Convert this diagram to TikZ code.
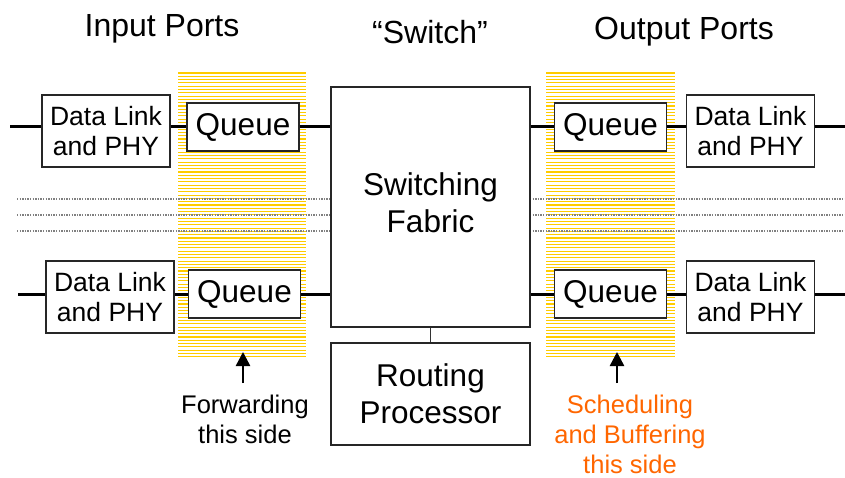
\documentclass[tikz,border=0pt]{standalone}
\usepackage{fontspec}
\setmainfont{Liberation Sans}
\usetikzlibrary{arrows.meta}
\definecolor{stripe}{HTML}{FFCC00}
\definecolor{orng}{HTML}{FF6600}
\tikzset{
  box/.style={draw=black!85, line width=1.3pt, fill=white, inner sep=0pt, align=center},
  dlp/.style={box, minimum width=128pt, minimum height=72pt, font=\fontsize{26.5}{30}\selectfont},
  queue/.style={box, minimum width=112pt, minimum height=48pt, font=\fontsize{31.5}{34}\selectfont},
  big/.style={box, minimum width=199pt, font=\fontsize{31.5}{37}\selectfont},
  wire/.style={line width=3pt, black},
  thinwire/.style={line width=1pt, black!80},
  dots/.style={line width=1.3pt, black!50, dash pattern=on 1.3pt off 1.3pt},
  title/.style={font=\fontsize{32}{36}\selectfont},
  note/.style={font=\fontsize{25.5}{30}\selectfont, align=center},
  uparrow/.style={line width=2.5pt, -{Triangle[width=14pt,length=14pt]}}
}
\begin{document}
\begin{tikzpicture}[x=1pt,y=-1pt]
\useasboundingbox (0,0) rectangle (845,478);
% stripes
\foreach \i in {0,...,86} {
  \draw[stripe, line width=1.05pt] (178,73+3.3*\i) -- (306,73+3.3*\i);
  \draw[stripe, line width=1.05pt] (546,73+3.3*\i) -- (675,73+3.3*\i);
}
% dotted lines
\foreach \yy in {199,215,231} {
  \draw[dots] (17,\yy) -- (331,\yy);
  \draw[dots] (530,\yy) -- (845,\yy);
}
% titles
\node[title] (tin) at (162,29) {Input Ports};
\node[title] (tsw) at (430,32) {“Switch”};
\node[title] (tout) at (684,32) {Output Ports};
% boxes
\node[dlp] (dlpA) at (106,131) {Data Link\\and PHY};
\node[queue] (qA) at (243,127) {Queue};
\node[dlp] (dlpB) at (110,297) {Data Link\\and PHY};
\node[queue] (qB) at (244.5,294) {Queue};
\node[big, minimum height=240pt] (fab) at (430.5,207) {Switching\\Fabric\\[-29pt]};
\node[big, minimum height=102pt] (rp) at (430.5,394) {Routing\\Processor};
\node[queue] (qC) at (610.5,127) {Queue};
\node[dlp] (dlpC) at (750.5,131) {Data Link\\and PHY};
\node[queue] (qD) at (610.5,294) {Queue};
\node[dlp] (dlpD) at (750.5,297) {Data Link\\and PHY};
% free ends
\coordinate (inA) at (10,127);
\coordinate (inB) at (18,294);
\coordinate (outC) at (845,127);
\coordinate (outD) at (845,294);
% wires
\draw[wire] (inA) -- (inA -| dlpA.west);
\draw[wire] (qA.west -| dlpA.east) -- (qA.west);
\draw[wire] (qA.east) -- (qA.east -| fab.west);
\draw[wire] (inB) -- (inB -| dlpB.west);
\draw[wire] (qB.west -| dlpB.east) -- (qB.west);
\draw[wire] (qB.east) -- (qB.east -| fab.west);
\draw[wire] (qC.west -| fab.east) -- (qC.west);
\draw[wire] (qC.east) -- (qC.east -| dlpC.west);
\draw[wire] (outC -| dlpC.east) -- (outC);
\draw[wire] (qD.west -| fab.east) -- (qD.west);
\draw[wire] (qD.east) -- (qD.east -| dlpD.west);
\draw[wire] (outD -| dlpD.east) -- (outD);
\draw[thinwire] (fab.south) -- (rp.north);
% notes and arrows
\node[note] (nfw) at (245,419) {Forwarding\\this side};
\node[note, text=orng] (nsb) at (630,434) {Scheduling\\and Buffering\\this side};
\coordinate (aL) at (243,352);
\coordinate (aR) at (617,352);
\draw[uparrow] (aL |- 0,383) -- (aL);
\draw[uparrow] (aR |- 0,383) -- (aR);
\end{tikzpicture}
\end{document}
